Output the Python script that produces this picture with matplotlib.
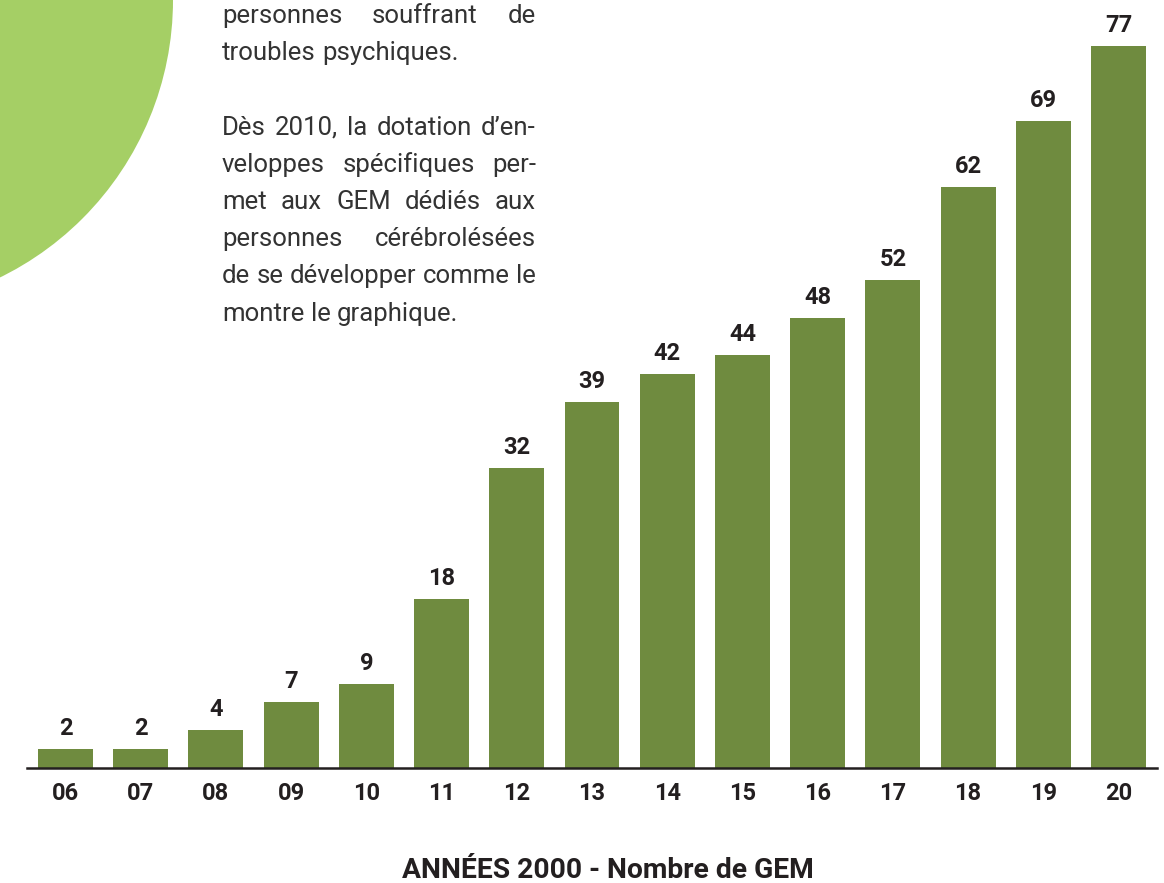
import matplotlib
matplotlib.use("Agg")
import matplotlib.pyplot as plt
from matplotlib.patches import Circle

# données
annees = ["06", "07", "08", "09", "10", "11", "12", "13", "14", "15", "16", "17", "18", "19", "20"]
nb_gem = [2, 2, 4, 7, 9, 18, 32, 39, 42, 44, 48, 52, 62, 69, 77]
titre = "ANNÉES 2000 - Nombre de GEM"

# paragraphe (mots, justifié ou non)
lignes = [
    ("personnes souffrant de", True),
    ("troubles psychiques.", False),
    None,
    ("Dès 2010, la dotation d’en-", True),
    ("veloppes spécifiques per-", True),
    ("met aux GEM dédiés aux", True),
    ("personnes cérébrolésées", True),
    ("de se développer comme le", True),
    ("montre le graphique.", False),
]

vert_barre = "#6f8b3f"
vert_clair = "#a5cf65"
noir = "#231f20"
gris_txt = "#333333"

plt.rcParams['font.family'] = ['Roboto', 'DejaVu Sans']

W, H = 1164, 883
fig = plt.figure(figsize=(W / 100, H / 100), dpi=100)

# fond en pixels : cercle + texte
bg = fig.add_axes([0, 0, 1, 1])
bg.set_xlim(0, W)
bg.set_ylim(H, 0)
bg.axis("off")
bg.add_patch(Circle((-136, 0), 309, color=vert_clair, lw=0))

renderer = fig.canvas.get_renderer()
x0, x1 = 222, 536
fs_txt = 18.5
t_a = bg.text(0, 0, "a a", fontsize=fs_txt)
t_b = bg.text(0, 0, "aa", fontsize=fs_txt)
esp = t_a.get_window_extent(renderer).width - t_b.get_window_extent(renderer).width
t_a.remove()
t_b.remove()

y = 23
for ligne in lignes:
    if ligne is not None:
        mots = ligne[0].split()
        txts = [bg.text(0, y, m, fontsize=fs_txt, color=gris_txt, va="baseline") for m in mots]
        larg = [t.get_window_extent(renderer).width for t in txts]
        if ligne[1] and len(mots) > 1:
            gap = (x1 - x0 - sum(larg)) / (len(mots) - 1)
        else:
            gap = esp
        x = x0
        for t, l in zip(txts, larg):
            t.set_x(x)
            x += l + gap
    y += 37.2

# graphique
ax = fig.add_axes([27 / W, (H - 768) / H, 1130 / W, 768 / H])
ax.patch.set_alpha(0)
pos = list(range(len(annees)))
barres = ax.bar(pos, nb_gem, width=0.731, color=vert_barre)
ax.bar_label(barres, labels=[str(v) for v in nb_gem], padding=6.5, fontsize=17,
             fontweight="bold", color=noir)
ax.set_xlim(-0.512, 14.512)
ax.set_ylim(0, 81.9)
ax.set_xticks(pos)
ax.set_xticklabels(annees, fontsize=17, fontweight="bold", color=noir)
for lab in ax.get_xticklabels():
    lab.set_verticalalignment("baseline")
ax.tick_params(axis="x", length=0, pad=23)
ax.set_yticks([])
for s in ["top", "left", "right"]:
    ax.spines[s].set_visible(False)
ax.spines["bottom"].set_color(noir)
ax.spines["bottom"].set_linewidth(1.8)

fig.text(608 / W, 1 - 878 / H, titre, ha="center", va="baseline", fontsize=20.3,
         fontweight="bold", color=noir)

fig.savefig("out.png", dpi=100)
